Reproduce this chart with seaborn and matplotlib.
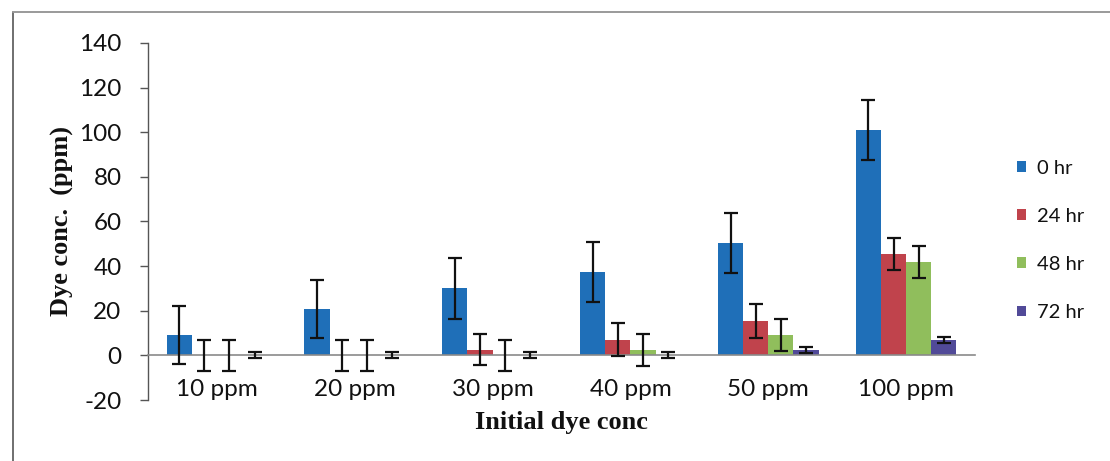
import matplotlib
matplotlib.use("Agg")
import matplotlib.pyplot as plt
from matplotlib.lines import Line2D
import seaborn as sns
import pandas as pd
import numpy as np

# Residual dye concentration at each sampling time
concentrations = ["10 ppm", "20 ppm", "30 ppm", "40 ppm", "50 ppm", "100 ppm"]
times = ["0 hr", "24 hr", "48 hr", "72 hr"]

dye_0hr = [9, 21, 30, 37.5, 50.5, 101]
dye_24hr = [0, 0, 2.5, 7, 15.5, 45.5]
dye_48hr = [0, 0, 0, 2.5, 9, 42]
dye_72hr = [0, 0, 0, 0, 2.3, 7]

err_0hr = [13, 13, 13.5, 13.5, 13.5, 13.5]
err_24hr = [7, 7, 7, 7.5, 7.5, 7.3]
err_48hr = [7, 7, 7, 7.2, 7.2, 7.2]
err_72hr = [1.3, 1.3, 1.3, 1.3, 1.3, 1.3]

values = [dye_0hr, dye_24hr, dye_48hr, dye_72hr]
errors = [err_0hr, err_24hr, err_48hr, err_72hr]
colors = ["#1F6FB8", "#C0434C", "#90BE5C", "#514A98"]

df = pd.DataFrame({
    "conc": np.tile(concentrations, len(times)),
    "time": np.repeat(times, len(concentrations)),
    "value": np.concatenate(values),
})

sns.set_theme(style="white")
plt.rcParams["font.family"] = ["Lato", "DejaVu Sans"]
plt.rcParams["axes.unicode_minus"] = False

fig = plt.figure(figsize=(11.10, 4.61), dpi=100)
ax = fig.add_axes([148 / 1110, 61 / 461, 827 / 1110, 357 / 461])

sns.barplot(data=df, x="conc", y="value", hue="time", order=concentrations,
            hue_order=times, palette=colors, width=0.73, errorbar=None,
            saturation=1, linewidth=0, ax=ax)

# error bars centred on each drawn bar
for container, vals, errs in zip(ax.containers, values, errors):
    xs = [bar.get_x() + bar.get_width() / 2 for bar in container]
    ax.errorbar(xs, vals, yerr=errs, fmt="none", ecolor="#111111",
                elinewidth=1.6, capsize=5, capthick=1.6, zorder=5)

ax.set_ylim(-20, 140)
ax.set_yticks(np.arange(-20, 141, 20))
ax.set_xlim(-0.5, len(concentrations) - 0.5)

for side in ["top", "right"]:
    ax.spines[side].set_visible(False)
ax.spines["left"].set_color("#555555")
ax.spines["left"].set_linewidth(1.0)
ax.spines["bottom"].set_position(("data", 0))
ax.spines["bottom"].set_color("#8a8a8a")
ax.spines["bottom"].set_linewidth(1.2)

ax.tick_params(axis="y", direction="out", length=6, width=1.0,
               color="#555555", labelsize=17.5, labelcolor="#111111", pad=13, left=True)
ax.tick_params(axis="x", length=0, labelsize=17.5, labelcolor="#111111", pad=17)

ax.set_ylabel("Dye conc.  (ppm)", family=["Liberation Serif"], fontweight="bold",
              fontsize=19, color="#111111", va="center")
ax.yaxis.set_label_coords(-0.104, 0.5)
ax.set_xlabel("Initial dye conc", family=["Liberation Serif"], fontweight="bold",
              fontsize=19, color="#111111", va="center")
ax.xaxis.set_label_coords(0.5, -0.064)

handles, labels = ax.get_legend_handles_labels()
ax.legend(handles, labels, loc="center left", bbox_to_anchor=(1.051, 0.447),
          frameon=False, fontsize=14.5, handlelength=0.45, handleheight=0.45,
          handletextpad=0.55, labelspacing=1.55, borderpad=0, borderaxespad=0,
          labelcolor="#111111")

# outer chart frame
fig.add_artist(Line2D([13 / 1110, 13 / 1110], [0, 1 - 12 / 461],
                      transform=fig.transFigure, color="#6f6f6f", lw=1.4))
fig.add_artist(Line2D([13 / 1110, 1], [1 - 12 / 461, 1 - 12 / 461],
                      transform=fig.transFigure, color="#9a9a9a", lw=1.4))

fig.savefig("out.png", dpi=100, facecolor="white")
